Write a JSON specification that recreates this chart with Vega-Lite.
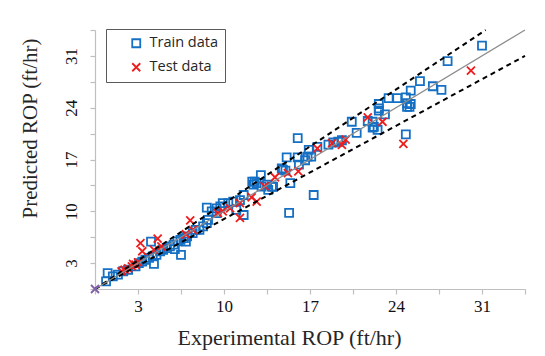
{
  "$schema": "https://vega.github.io/schema/vega-lite/v6.json",
  "width": 430,
  "height": 259,
  "autosize": {"type": "none"},
  "padding": {"left": 95, "top": 30, "right": 20, "bottom": 67},
  "background": "white",
  "config": {
    "view": {"stroke": null},
    "style": {"guide-label": {"font": "Liberation Serif", "fontSize": 17, "fill": "#111111"}},
    "axis": {"labelFont": "Liberation Serif", "labelFontSize": 17},
    "legend": {"labelFont": "Open Sans", "labelFontSize": 14.5}
  },
  "datasets": {
    "points": [
      {"x": 31.0, "y": 32.4, "set": "Train data"},
      {"x": 28.2, "y": 30.3, "set": "Train data"},
      {"x": 25.95, "y": 27.6, "set": "Train data"},
      {"x": 27.0, "y": 26.9, "set": "Train data"},
      {"x": 27.7, "y": 26.4, "set": "Train data"},
      {"x": 25.2, "y": 26.3, "set": "Train data"},
      {"x": 23.4, "y": 25.3, "set": "Train data"},
      {"x": 24.1, "y": 25.3, "set": "Train data"},
      {"x": 24.8, "y": 25.4, "set": "Train data"},
      {"x": 24.9, "y": 24.6, "set": "Train data"},
      {"x": 25.2, "y": 24.5, "set": "Train data"},
      {"x": 24.9, "y": 24.1, "set": "Train data"},
      {"x": 25.1, "y": 24.1, "set": "Train data"},
      {"x": 22.6, "y": 24.5, "set": "Train data"},
      {"x": 22.6, "y": 23.9, "set": "Train data"},
      {"x": 22.6, "y": 23.6, "set": "Train data"},
      {"x": 23.1, "y": 23.1, "set": "Train data"},
      {"x": 20.4, "y": 22.1, "set": "Train data"},
      {"x": 21.7, "y": 22.2, "set": "Train data"},
      {"x": 22.1, "y": 22.1, "set": "Train data"},
      {"x": 22.2, "y": 21.4, "set": "Train data"},
      {"x": 22.5, "y": 21.0, "set": "Train data"},
      {"x": 22.1, "y": 21.3, "set": "Train data"},
      {"x": 20.8, "y": 20.6, "set": "Train data"},
      {"x": 24.8, "y": 20.4, "set": "Train data"},
      {"x": 16.0, "y": 19.9, "set": "Train data"},
      {"x": 18.5, "y": 19.0, "set": "Train data"},
      {"x": 18.9, "y": 19.3, "set": "Train data"},
      {"x": 19.3, "y": 19.4, "set": "Train data"},
      {"x": 19.6, "y": 19.6, "set": "Train data"},
      {"x": 17.6, "y": 18.7, "set": "Train data"},
      {"x": 16.9, "y": 18.3, "set": "Train data"},
      {"x": 16.8, "y": 17.4, "set": "Train data"},
      {"x": 16.6, "y": 16.9, "set": "Train data"},
      {"x": 17.1, "y": 17.4, "set": "Train data"},
      {"x": 15.1, "y": 17.3, "set": "Train data"},
      {"x": 16.0, "y": 17.3, "set": "Train data"},
      {"x": 16.1, "y": 16.3, "set": "Train data"},
      {"x": 14.7, "y": 15.8, "set": "Train data"},
      {"x": 14.8, "y": 15.6, "set": "Train data"},
      {"x": 15.0, "y": 15.5, "set": "Train data"},
      {"x": 15.4, "y": 13.8, "set": "Train data"},
      {"x": 13.0, "y": 14.9, "set": "Train data"},
      {"x": 12.66, "y": 13.8, "set": "Train data"},
      {"x": 12.4, "y": 13.6, "set": "Train data"},
      {"x": 13.06, "y": 13.35, "set": "Train data"},
      {"x": 13.5, "y": 13.6, "set": "Train data"},
      {"x": 13.9, "y": 13.35, "set": "Train data"},
      {"x": 13.6, "y": 12.9, "set": "Train data"},
      {"x": 12.3, "y": 14.0, "set": "Train data"},
      {"x": 12.5, "y": 14.0, "set": "Train data"},
      {"x": 14.0, "y": 13.3, "set": "Train data"},
      {"x": 17.3, "y": 12.2, "set": "Train data"},
      {"x": 15.3, "y": 9.8, "set": "Train data"},
      {"x": 11.6, "y": 12.2, "set": "Train data"},
      {"x": 11.3, "y": 11.5, "set": "Train data"},
      {"x": 10.75, "y": 11.3, "set": "Train data"},
      {"x": 10.35, "y": 11.1, "set": "Train data"},
      {"x": 9.9, "y": 11.1, "set": "Train data"},
      {"x": 9.7, "y": 10.65, "set": "Train data"},
      {"x": 9.4, "y": 10.4, "set": "Train data"},
      {"x": 9.0, "y": 10.0, "set": "Train data"},
      {"x": 8.6, "y": 10.5, "set": "Train data"},
      {"x": 11.0, "y": 10.2, "set": "Train data"},
      {"x": 11.6, "y": 9.5, "set": "Train data"},
      {"x": 8.6, "y": 8.4, "set": "Train data"},
      {"x": 8.3, "y": 7.95, "set": "Train data"},
      {"x": 8.0, "y": 7.5, "set": "Train data"},
      {"x": 9.4, "y": 9.75, "set": "Train data"},
      {"x": 8.7, "y": 8.85, "set": "Train data"},
      {"x": 7.7, "y": 7.5, "set": "Train data"},
      {"x": 7.45, "y": 7.05, "set": "Train data"},
      {"x": 7.0, "y": 6.6, "set": "Train data"},
      {"x": 6.74, "y": 6.38, "set": "Train data"},
      {"x": 6.46, "y": 6.15, "set": "Train data"},
      {"x": 6.2, "y": 5.93, "set": "Train data"},
      {"x": 5.9, "y": 5.5, "set": "Train data"},
      {"x": 5.6, "y": 5.25, "set": "Train data"},
      {"x": 5.33, "y": 5.03, "set": "Train data"},
      {"x": 5.05, "y": 4.8, "set": "Train data"},
      {"x": 4.8, "y": 4.58, "set": "Train data"},
      {"x": 4.5, "y": 4.1, "set": "Train data"},
      {"x": 4.2, "y": 3.9, "set": "Train data"},
      {"x": 3.9, "y": 3.7, "set": "Train data"},
      {"x": 3.6, "y": 3.45, "set": "Train data"},
      {"x": 3.35, "y": 3.2, "set": "Train data"},
      {"x": 3.07, "y": 3.0, "set": "Train data"},
      {"x": 6.9, "y": 5.9, "set": "Train data"},
      {"x": 6.5, "y": 4.1, "set": "Train data"},
      {"x": 6.0, "y": 4.9, "set": "Train data"},
      {"x": 4.3, "y": 2.9, "set": "Train data"},
      {"x": 4.06, "y": 5.9, "set": "Train data"},
      {"x": 0.53, "y": 1.65, "set": "Train data"},
      {"x": 0.4, "y": 0.53, "set": "Train data"},
      {"x": 0.95, "y": 1.2, "set": "Train data"},
      {"x": 1.37, "y": 1.43, "set": "Train data"},
      {"x": 1.8, "y": 1.9, "set": "Train data"},
      {"x": 2.2, "y": 2.1, "set": "Train data"},
      {"x": 2.8, "y": 2.55, "set": "Train data"},
      {"x": 30.1, "y": 29.0, "set": "Test data"},
      {"x": 24.6, "y": 19.1, "set": "Test data"},
      {"x": 21.7, "y": 22.7, "set": "Test data"},
      {"x": 22.9, "y": 22.1, "set": "Test data"},
      {"x": 18.8, "y": 19.2, "set": "Test data"},
      {"x": 19.6, "y": 18.97, "set": "Test data"},
      {"x": 19.9, "y": 19.7, "set": "Test data"},
      {"x": 17.6, "y": 18.5, "set": "Test data"},
      {"x": 16.05, "y": 15.4, "set": "Test data"},
      {"x": 15.2, "y": 15.15, "set": "Test data"},
      {"x": 14.15, "y": 14.6, "set": "Test data"},
      {"x": 13.3, "y": 13.4, "set": "Test data"},
      {"x": 12.66, "y": 11.3, "set": "Test data"},
      {"x": 12.25, "y": 11.9, "set": "Test data"},
      {"x": 11.3, "y": 11.1, "set": "Test data"},
      {"x": 11.3, "y": 9.1, "set": "Test data"},
      {"x": 10.5, "y": 10.4, "set": "Test data"},
      {"x": 9.9, "y": 10.0, "set": "Test data"},
      {"x": 9.5, "y": 9.76, "set": "Test data"},
      {"x": 7.25, "y": 8.76, "set": "Test data"},
      {"x": 7.45, "y": 7.5, "set": "Test data"},
      {"x": 6.9, "y": 6.9, "set": "Test data"},
      {"x": 4.6, "y": 6.3, "set": "Test data"},
      {"x": 4.3, "y": 4.8, "set": "Test data"},
      {"x": 4.9, "y": 5.25, "set": "Test data"},
      {"x": 3.2, "y": 5.7, "set": "Test data"},
      {"x": 3.35, "y": 4.6, "set": "Test data"},
      {"x": 2.8, "y": 2.78, "set": "Test data"},
      {"x": 2.5, "y": 2.55, "set": "Test data"},
      {"x": 2.2, "y": 2.3, "set": "Test data"},
      {"x": 1.9, "y": 2.1, "set": "Test data"},
      {"x": 1.66, "y": 1.88, "set": "Test data"},
      {"x": 2.6, "y": 2.9, "set": "Test data"},
      {"x": 3.0, "y": 3.1, "set": "Test data"}
    ],
    "lines": [
      {"x": -0.5, "y": -0.5, "line": "fit"},
      {"x": 34.5, "y": 34.5, "line": "fit"},
      {"x": -0.5, "y": -0.5, "line": "upper"},
      {"x": 31.3, "y": 34.5, "line": "upper"},
      {"x": -0.5, "y": -0.5, "line": "lower"},
      {"x": 34.5, "y": 31.0, "line": "lower"}
    ],
    "origin": [{"x": -0.5, "y": -0.5}]
  },
  "encoding": {
    "x": {
      "field": "x", "type": "quantitative",
      "scale": {"domain": [-0.5, 34.5], "nice": false, "zero": false},
      "axis": {
        "values": [-0.5, 3, 6.5, 10, 13.5, 17, 20.5, 24, 27.5, 31, 34.5],
        "labelExpr": "datum.value % 7 == 3 ? format(datum.value, 'd') : ''",
        "labelOverlap": false, "labelFlush": false,
        "grid": false,
        "domainColor": "#bfbfbf", "domainWidth": 1.2,
        "tickColor": "#bfbfbf", "tickWidth": 1.2, "tickSize": 5,
        "labelColor": "#111111", "labelPadding": 4,
        "title": "Experimental ROP (ft/hr)",
        "titleFont": "Liberation Serif", "titleFontSize": 22, "titleFontWeight": "normal", "titleColor": "#262626", "titlePadding": 13,
        "titleX": 194
      }
    },
    "y": {
      "field": "y", "type": "quantitative",
      "scale": {"domain": [-0.5, 34.5], "nice": false, "zero": false},
      "axis": {
        "values": [-0.5, 3, 6.5, 10, 13.5, 17, 20.5, 24, 27.5, 31, 34.5],
        "labelExpr": "datum.value % 7 == 3 ? format(datum.value, 'd') : ''",
        "labelOverlap": false, "labelFlush": false,
        "labelAngle": -90,
        "grid": false,
        "domainColor": "#bfbfbf", "domainWidth": 1.2,
        "tickColor": "#bfbfbf", "tickWidth": 1.2, "tickSize": 5,
        "labelColor": "#111111", "labelPadding": 10,
        "title": "Predicted ROP (ft/hr)",
        "titleFont": "Liberation Serif", "titleFontSize": 21, "titleFontWeight": "normal", "titleColor": "#262626", "titlePadding": 22,
        "titleY": 98
      }
    }
  },
  "layer": [
    {
      "data": {"name": "points"},
      "mark": {"type": "point", "filled": false, "size": 64, "strokeWidth": 1.8, "opacity": 1},
      "encoding": {
        "shape": {
          "field": "set", "type": "nominal",
          "scale": {"domain": ["Train data", "Test data"], "range": ["square", "M-1,-1L1,1M1,-1L-1,1"]},
          "legend": {
            "title": null, "orient": "none", "legendX": 11, "legendY": -1,
            "strokeColor": "#5a5a5a", "fillColor": "white", "padding": 7, "rowPadding": 8,
            "symbolOffset": 16, "labelOffset": 6, "symbolSize": 64, "symbolStrokeWidth": 1.8,
            "labelFont": "Open Sans", "labelFontSize": 14.5, "labelColor": "#262626"
          }
        },
        "color": {
          "field": "set", "type": "nominal",
          "scale": {"domain": ["Train data", "Test data"], "range": ["#1570c4", "#ee1c1c"]},
          "legend": {
            "title": null, "orient": "none", "legendX": 11, "legendY": -1,
            "strokeColor": "#5a5a5a", "fillColor": "white", "padding": 7, "rowPadding": 8,
            "symbolOffset": 16, "labelOffset": 6, "symbolSize": 64, "symbolStrokeWidth": 1.8,
            "labelFont": "Open Sans", "labelFontSize": 14.5, "labelColor": "#262626"
          }
        }
      }
    },
    {
      "data": {"name": "lines"},
      "transform": [{"filter": "datum.line != 'fit'"}],
      "mark": {"type": "line", "color": "#000000", "strokeWidth": 2, "strokeDash": [5, 4]},
      "encoding": {"detail": {"field": "line", "type": "nominal"}}
    },
    {
      "data": {"name": "lines"},
      "transform": [{"filter": "datum.line == 'fit'"}],
      "mark": {"type": "line", "color": "#8c8c8c", "strokeWidth": 1.2},
      "encoding": {}
    },
    {
      "data": {"name": "origin"},
      "mark": {"type": "point", "filled": false, "shape": "M-1,-1L1,1M1,-1L-1,1", "size": 64, "strokeWidth": 1.8, "color": "#7f5fa8", "opacity": 1},
      "encoding": {}
    }
  ]
}
